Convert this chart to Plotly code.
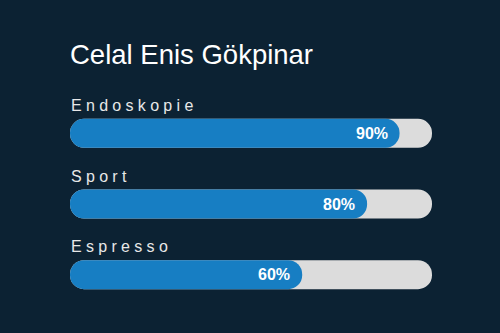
import plotly.graph_objects as go

# ---- data ----
title_text = "Celal Enis Gökpinar"
skills = ["Endoskopie", "Sport", "Espresso"]
values = [90, 80, 60]
track_max = 100

# ---- styling ----
BG = "#0c2233"
BLUE = "#177ec3"
GRAY = "#dcdcdc"
FONT = "Liberation Sans, Arial, sans-serif"
BAR_W = 0.411          # bar thickness in category units
START = -11.54          # axis position of the bars' left edge
X_RANGE = [-11.54, 100]

fig = go.Figure()

# gray tracks
fig.add_trace(go.Bar(
    y=skills, x=[track_max - START] * len(skills), base=[START] * len(skills),
    orientation="h", width=BAR_W, marker=dict(color=GRAY, cornerradius="50%", line=dict(width=0)),
    hoverinfo="skip", showlegend=False,
))
# blue fills
fig.add_trace(go.Bar(
    y=skills, x=[v - START for v in values], base=[START] * len(skills),
    orientation="h", width=BAR_W, marker=dict(color=BLUE, cornerradius="50%", line=dict(width=0)),
    hoverinfo="skip", showlegend=False,
))

annotations = []
for s, v in zip(skills, values):
    annotations.append(dict(
        x=v, y=s, xref="x", yref="y", text=f"<b>{v}%</b>", showarrow=False,
        xanchor="right", yanchor="middle", xshift=-10, yshift=0,
        font=dict(family=FONT, size=16, color="white"),
    ))
    annotations.append(dict(
        x=0, y=s, xref="paper", yref="y",
        text=f'<span style="letter-spacing:4.3px">{s}</span>', showarrow=False,
        xanchor="left", yanchor="middle", xshift=-1, yshift=28,
        font=dict(family=FONT, size=16, color="#e8e8e8"),
    ))

fig.update_layout(
    width=500, height=333,
    paper_bgcolor=BG, plot_bgcolor=BG,
    margin=dict(l=70, r=67.5, t=98.25, b=23.25),
    barmode="overlay",
    title=dict(text=title_text, x=70 / 500, xanchor="left", y=1 - 54 / 333, yanchor="middle",
               font=dict(family=FONT, size=27.5, color="white")),
    xaxis=dict(range=X_RANGE, visible=False, fixedrange=True),
    yaxis=dict(type="category", categoryorder="array", categoryarray=skills,
               range=[2.5, -0.5], visible=False, fixedrange=True),
    annotations=annotations,
)

fig.write_html("out.html")
